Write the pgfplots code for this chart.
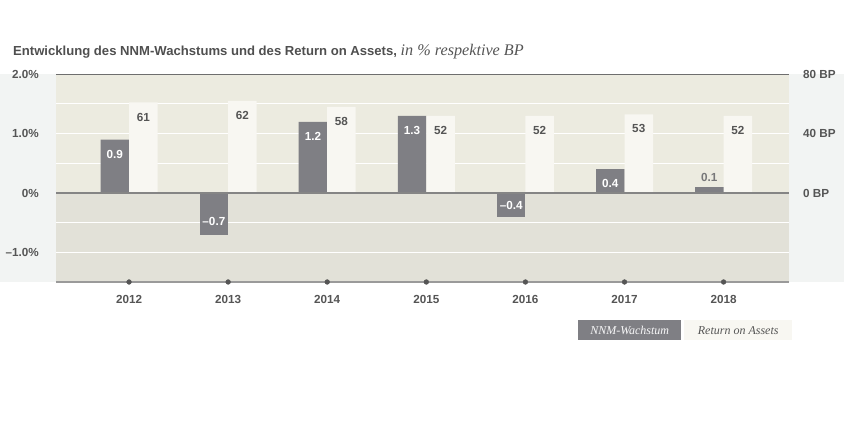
\documentclass[border=0pt]{standalone}
\usepackage{fontspec}
\setmainfont{Liberation Sans}
\newfontfamily\serifit{Liberation Serif}
\usepackage{pgfplots}
\pgfplotsset{compat=1.18}
\definecolor{darkbar}{HTML}{7F7F84}
\definecolor{lightbar}{HTML}{F8F7F2}
\definecolor{upperbg}{HTML}{ECEBE0}
\definecolor{lowerbg}{HTML}{E2E1D8}
\definecolor{sidebg}{HTML}{F2F4F3}
\definecolor{txt}{HTML}{555555}
\definecolor{titlec}{HTML}{4F4F4F}
\definecolor{topline}{HTML}{6E6E6E}
\definecolor{zeroline}{HTML}{858585}
\definecolor{botline}{HTML}{9A9A9A}
\definecolor{dotc}{HTML}{555555}
\definecolor{smalllbl}{HTML}{777779}
\newcommand{\lblfont}{\fontsize{11.7}{13}\selectfont\bfseries}
\begin{document}
\begin{tikzpicture}[x=1pt,y=1pt]
\useasboundingbox (0,0) rectangle (844,427);
\fill[sidebg] (0,145) rectangle (56,352.7);
\fill[sidebg] (789,145) rectangle (844,352.7);
\node[anchor=base west, inner sep=0pt, text=titlec] at (13,371)
  {\fontsize{13.1}{15}\selectfont\bfseries Entwicklung des NNM-Wachstums und des Return on Assets,
   {\serifit\mdseries\itshape\fontsize{16.2}{17}\selectfont\color{txt} in \% respektive BP}};
\begin{axis}[at={(56pt,145pt)}, anchor=south west, scale only axis,
  width=733pt, height=207.7pt,
  xmin=-0.737, xmax=6.66, ymin=-1.5, ymax=2,
  axis line style={draw=none}, clip=false,
  xtick={0,1,2,3,4,5,6},
  xticklabels={2012,2013,2014,2015,2016,2017,2018},
  ytick={-1,0,1,2},
  yticklabels={–1.0\%,0\%,1.0\%,2.0\%},
  major tick length=0pt,
  tick label style={font=\lblfont, text=txt, inner sep=0pt},
  yticklabel style={anchor=east, xshift=-17pt},
  xticklabel style={anchor=north, yshift=-13pt},
  /pgf/number format/assume math mode=true]
\fill[upperbg] (axis cs:-0.737,0) rectangle (axis cs:6.66,2);
\fill[lowerbg] (axis cs:-0.737,-1.5) rectangle (axis cs:6.66,0);
\draw[white, line width=1pt] (axis cs:-0.737,-1) -- (axis cs:6.66,-1);
\draw[white, line width=1pt] (axis cs:-0.737,-0.5) -- (axis cs:6.66,-0.5);
\draw[white, line width=1pt] (axis cs:-0.737,0.5) -- (axis cs:6.66,0.5);
\draw[white, line width=1pt] (axis cs:-0.737,1) -- (axis cs:6.66,1);
\draw[white, line width=1pt] (axis cs:-0.737,1.5) -- (axis cs:6.66,1.5);
\draw[topline, line width=1.2pt] (axis cs:-0.737,2) -- (axis cs:6.66,2);
\draw[botline, line width=1.6pt] (axis cs:-0.737,-1.5) -- (axis cs:6.66,-1.5);
\addplot[only marks, mark=*, mark size=2.4pt, color=dotc]
  coordinates {(0,-1.5) (1,-1.5) (2,-1.5) (3,-1.5) (4,-1.5) (5,-1.5) (6,-1.5)};
% NNM growth
\addplot[ybar, bar width=28.5pt, bar shift=-14.25pt, fill=darkbar, draw=none,
  point meta=explicit symbolic, nodes near coords,
  nodes near coords style={anchor=center, xshift=-14.25pt, yshift=-14.5pt, font=\lblfont, text=white}]
  coordinates {(0,0.9)[0.9] (2,1.2)[1.2] (3,1.3)[1.3] (5,0.4)[0.4]};
\addplot[ybar, bar width=28.5pt, bar shift=-14.25pt, fill=darkbar, draw=none,
  point meta=explicit symbolic, nodes near coords,
  nodes near coords style={anchor=center, xshift=-14.25pt, yshift=13.5pt, font=\lblfont, text=white}]
  coordinates {(1,-0.7)[–0.7]};
\addplot[ybar, bar width=28.5pt, bar shift=-14.25pt, fill=darkbar, draw=none,
  point meta=explicit symbolic, nodes near coords,
  nodes near coords style={anchor=center, xshift=-14.25pt, yshift=11pt, font=\lblfont, text=white}]
  coordinates {(4,-0.4)[–0.4]};
\addplot[ybar, bar width=28.5pt, bar shift=-14.25pt, fill=darkbar, draw=none,
  point meta=explicit symbolic, nodes near coords,
  nodes near coords style={anchor=center, xshift=-14.25pt, yshift=10pt, font=\lblfont, text=smalllbl}]
  coordinates {(6,0.1)[0.1]};
\end{axis}
\begin{axis}[at={(56pt,145pt)}, anchor=south west, scale only axis,
  width=733pt, height=207.7pt,
  xmin=-0.737, xmax=6.66, ymin=-60, ymax=80,
  axis line style={draw=none}, clip=false,
  xtick=\empty,
  ytick={0,40,80},
  yticklabels={0 BP,40 BP,80 BP},
  yticklabel pos=right,
  major tick length=0pt,
  tick label style={font=\lblfont, text=txt, inner sep=0pt},
  yticklabel style={anchor=west, xshift=14pt}]
\addplot[ybar, bar width=28.5pt, bar shift=14.25pt, fill=lightbar, draw=none,
  point meta=explicit symbolic, nodes near coords,
  nodes near coords style={anchor=center, xshift=14.25pt, yshift=-14.5pt, font=\lblfont, text=txt}]
  coordinates {(0,61)[61] (1,62)[62] (2,58)[58] (3,52)[52] (4,52)[52] (5,53)[53] (6,52)[52]};
\draw[zeroline, line width=1.2pt] (axis cs:-0.737,0) -- (axis cs:6.66,0);
\end{axis}
\node[fill=darkbar, minimum width=103pt, minimum height=20pt, anchor=north west,
  inner sep=0pt, text=white!94!darkbar] at (578,107)
  {\serifit\itshape\fontsize{12}{14}\selectfont NNM-Wachstum};
\node[fill=lightbar, minimum width=108pt, minimum height=20pt, anchor=north west,
  inner sep=0pt, text=txt] at (684,107)
  {\serifit\itshape\fontsize{12}{14}\selectfont Return on Assets};
\end{tikzpicture}
\end{document}
